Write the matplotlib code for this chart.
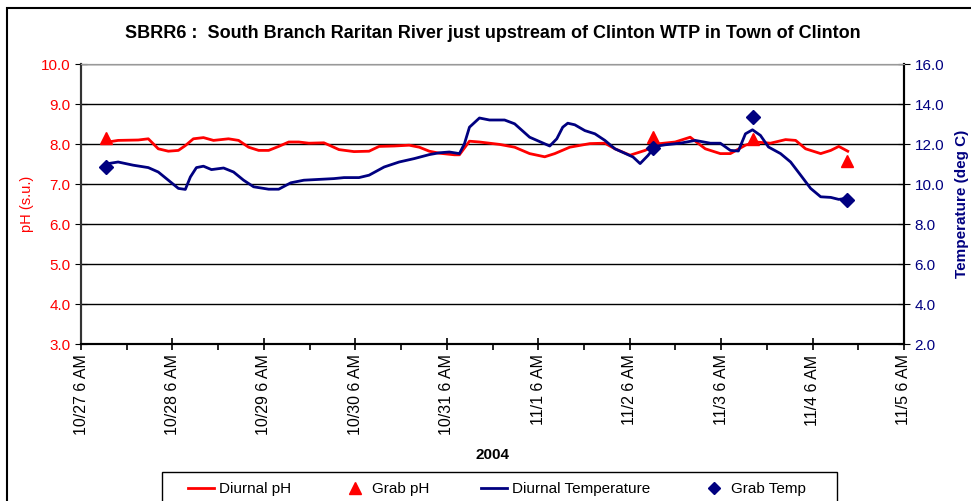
import matplotlib
matplotlib.use("Agg")
import matplotlib.pyplot as plt
import matplotlib.dates as mdates
from matplotlib.lines import Line2D
from matplotlib.patches import Rectangle
import numpy as np
import pandas as pd

plt.rcParams["font.family"] = ["Liberation Sans", "DejaVu Sans"]

start = pd.Timestamp("2004-10-27 06:00")

# days since 10/27 6 AM
ph_days = [0.296, 0.406, 0.626, 0.736, 0.845, 0.955, 1.065, 1.141, 1.229, 1.339,
           1.449, 1.613, 1.723, 1.833, 1.943, 2.052, 2.162, 2.272, 2.382, 2.492,
           2.656, 2.821, 2.985, 3.150, 3.260, 3.424, 3.589, 3.699, 3.809, 3.918,
           4.083, 4.138, 4.248, 4.357, 4.577, 4.742, 4.906, 5.071, 5.181, 5.345,
           5.565, 5.729, 5.839, 6.004, 6.168, 6.333, 6.498, 6.662, 6.827, 6.991,
           7.101, 7.266, 7.375, 7.540, 7.705, 7.815, 7.924, 8.089, 8.199, 8.287,
           8.385]
ph_vals = [8.05, 8.09, 8.10, 8.13, 7.88, 7.82, 7.84, 7.96, 8.13, 8.16,
           8.09, 8.13, 8.09, 7.92, 7.84, 7.84, 7.94, 8.05, 8.05, 8.02,
           8.03, 7.86, 7.81, 7.82, 7.94, 7.95, 7.97, 7.92, 7.82, 7.77,
           7.73, 7.73, 8.07, 8.05, 7.99, 7.92, 7.76, 7.68, 7.76, 7.92,
           8.01, 8.02, 7.88, 7.72, 7.84, 8.01, 8.05, 8.17, 7.88, 7.76,
           7.76, 7.97, 8.05, 8.02, 8.11, 8.09, 7.88, 7.76, 7.84, 7.94,
           7.82]

temp_days = [0.296, 0.406, 0.571, 0.736, 0.845, 0.955, 1.065, 1.141, 1.196, 1.262,
             1.339, 1.427, 1.559, 1.668, 1.778, 1.888, 2.052, 2.162, 2.294, 2.437,
             2.601, 2.766, 2.876, 3.040, 3.150, 3.315, 3.479, 3.644, 3.809, 3.918,
             4.028, 4.138, 4.193, 4.248, 4.357, 4.467, 4.632, 4.742, 4.906, 5.071,
             5.126, 5.203, 5.268, 5.323, 5.400, 5.510, 5.620, 5.729, 5.839, 6.037,
             6.114, 6.201, 6.278, 6.388, 6.553, 6.717, 6.882, 6.991, 7.101, 7.189,
             7.266, 7.343, 7.430, 7.518, 7.650, 7.760, 7.870, 7.979, 8.089, 8.199,
             8.287, 8.364]
temp_vals = [11.02, 11.10, 10.94, 10.82, 10.60, 10.19, 9.78, 9.73, 10.35, 10.82,
             10.89, 10.72, 10.80, 10.60, 10.19, 9.86, 9.74, 9.74, 10.06, 10.19,
             10.23, 10.27, 10.32, 10.32, 10.44, 10.85, 11.10, 11.27, 11.47, 11.56,
             11.60, 11.52, 12.01, 12.84, 13.30, 13.20, 13.20, 13.01, 12.34, 12.01,
             11.90, 12.26, 12.84, 13.04, 12.96, 12.67, 12.51, 12.18, 11.76, 11.35,
             11.02, 11.43, 11.88, 11.96, 12.04, 12.18, 12.04, 12.04, 11.68, 11.65,
             12.51, 12.71, 12.43, 11.85, 11.52, 11.10, 10.44, 9.78, 9.36, 9.33,
             9.23, 9.28]

grab_days = [0.274, 6.256, 7.354, 8.375]
grab_ph = [8.15, 8.18, 8.13, 7.58]
grab_temp = [10.87, 11.78, 13.37, 9.20]


def to_time(days):
    return start + pd.to_timedelta(days, unit="D")


RED = "#FF0000"
NAVY = "#000080"

fig = plt.figure(figsize=(9.71, 5.01), dpi=100)
# outer chart border
fig.patches.append(Rectangle((7 / 971, -0.1), 1.1, 1 - 8 / 501 + 0.1,
                             transform=fig.transFigure, fill=False,
                             edgecolor="black", lw=1.5))

ax1 = fig.add_axes([81 / 971, 1 - 344 / 501, (904 - 81) / 971, (344 - 64) / 501])
ax2 = ax1.twinx()

ax1.plot(to_time(ph_days), ph_vals, color=RED, lw=2, zorder=3)
ax1.plot(to_time(grab_days), grab_ph, linestyle="none", marker="^",
         color=RED, markersize=9, zorder=4)
ax2.plot(to_time(temp_days), temp_vals, color=NAVY, lw=2, zorder=3)
ax2.plot(to_time(grab_days), grab_temp, linestyle="none", marker="D",
         color=NAVY, markersize=7, zorder=4)

ax1.set_ylim(3, 10)
ax2.set_ylim(2, 16)
ax1.set_yticks(np.arange(3, 10.01, 1))
ax2.set_yticks(np.arange(2, 16.01, 2))
ax1.yaxis.set_major_formatter(plt.FormatStrFormatter("%.1f"))
ax2.yaxis.set_major_formatter(plt.FormatStrFormatter("%.1f"))
ax1.grid(axis="y", color="black", lw=1)
ax1.set_axisbelow(True)

ax1.set_xlim(start, start + pd.Timedelta(days=9))
ax1.xaxis.set_minor_locator(mdates.HourLocator(byhour=[18]))
tick_times = [start + pd.Timedelta(days=i) for i in range(10)]
ax1.set_xticks(tick_times)
ax1.set_xticklabels([f"{t.month}/{t.day} 6 AM" for t in tick_times],
                    rotation=90, fontsize=11.5)
ax1.tick_params(axis="x", which="major", direction="inout", length=8, width=1.2)
ax1.tick_params(axis="x", which="minor", direction="out", length=4, width=1.2)
ax1.tick_params(axis="y", direction="inout", length=8, colors=RED, labelsize=11)
ax1.tick_params(axis="y", color="black")
ax2.tick_params(axis="y", direction="inout", length=8, colors=NAVY, labelsize=11)
ax2.tick_params(axis="y", color="black")

for ax in (ax1, ax2):
    ax.spines["top"].set_color("#999999")
    ax.spines["left"].set_linewidth(1.5)
    ax.spines["right"].set_linewidth(1.5)
    ax.spines["bottom"].set_linewidth(1.5)
    ax.spines["left"].set_color("#333333")
    ax.spines["right"].set_color("black")

ax1.set_ylabel("pH (s.u.)", color=RED, fontsize=10.5, labelpad=5)
ax2.set_ylabel("Temperature (deg C)", color=NAVY, fontsize=11,
               fontweight="bold", labelpad=8)
ax1.set_xlabel("2004", fontsize=11, fontweight="bold", labelpad=9)

fig.text(493 / 971, 1 - 33 / 501,
         "SBRR6 :  South Branch Raritan River just upstream of Clinton WTP in Town of Clinton",
         ha="center", va="center", fontsize=13, fontweight="bold")

# legend box (drawn separately for wider side padding)
fig.patches.append(Rectangle((162 / 971, -0.1), (837 - 162) / 971, 0.1 + 1 - 472 / 501,
                             transform=fig.transFigure, fill=False,
                             edgecolor="black", lw=1))
handles = [Line2D([], [], color=RED, lw=2),
           Line2D([], [], color=RED, marker="^", linestyle="none", markersize=8),
           Line2D([], [], color=NAVY, lw=2),
           Line2D([], [], color=NAVY, marker="D", linestyle="none", markersize=6)]
labels = ["Diurnal pH", "Grab pH", "Diurnal Temperature", "Grab Temp"]
fig.legend(handles, labels, loc="center left",
           bbox_to_anchor=(175 / 971, 1 - 489 / 501), ncol=4,
           frameon=False, fontsize=11, handlelength=1.7, columnspacing=3.35,
           borderpad=0.35, handletextpad=0.3)

fig.savefig("out.png", dpi=100)
